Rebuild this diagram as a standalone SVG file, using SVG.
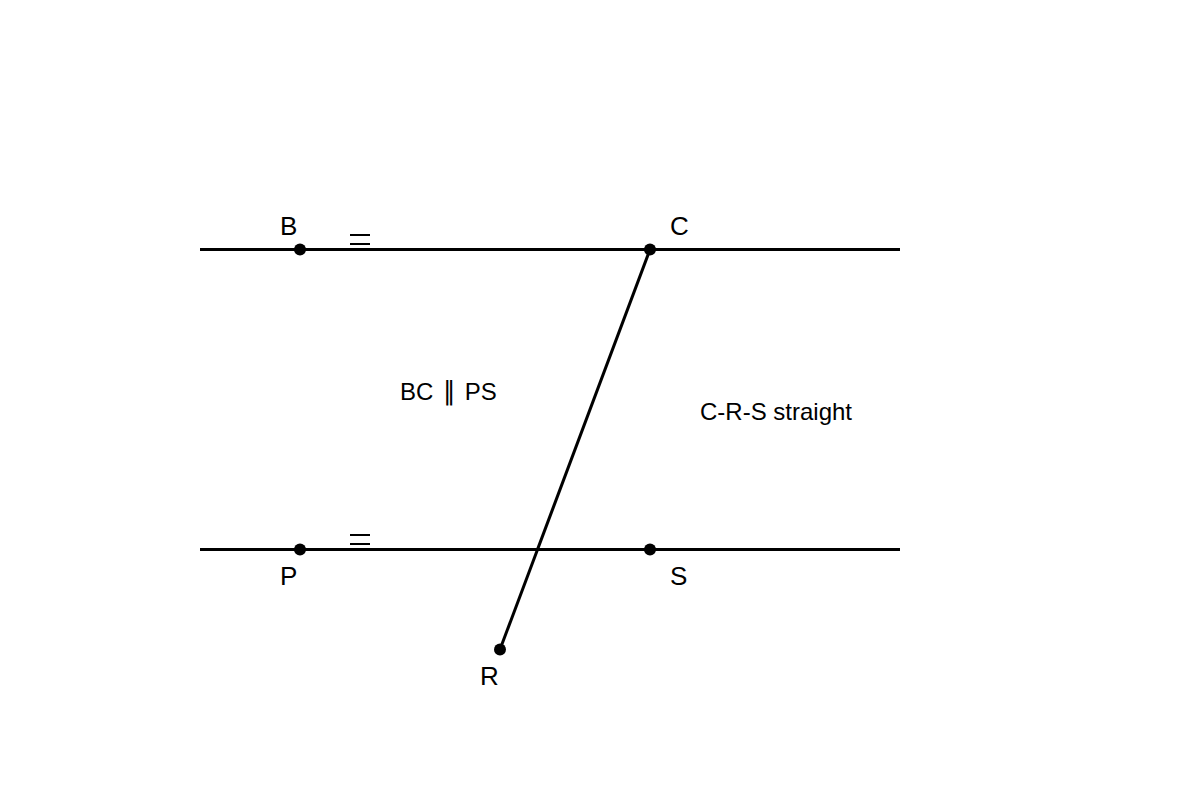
<svg xmlns="http://www.w3.org/2000/svg" width="1200" height="800" viewBox="0 0 1200 800">
<style>
.ln{stroke:#000;stroke-width:3;fill:none}
.tk{stroke:#000;stroke-width:2}
.pt{fill:#000}
.lbl{font-family:"Liberation Sans",Arial,sans-serif;font-size:26px;fill:#000}
.note{font-family:"Liberation Sans",Arial,sans-serif;font-size:24px;fill:#000}
</style>
<rect width="1200" height="800" fill="#fff"/>
<g id="connectors">
<line class="ln" x1="200" y1="249.5" x2="900" y2="249.5"/>
<line class="ln" x1="200" y1="549.5" x2="900" y2="549.5"/>
<line class="ln" x1="650" y1="249.5" x2="500" y2="649.5"/>
<line class="tk" x1="350" y1="235" x2="370" y2="235"/>
<line class="tk" x1="350" y1="244" x2="370" y2="244"/>
<line class="tk" x1="350" y1="535" x2="370" y2="535"/>
<line class="tk" x1="350" y1="544" x2="370" y2="544"/>
</g>
<g id="B"><circle class="pt" cx="300" cy="249.5" r="6"/><text class="lbl" x="280" y="235">B</text></g>
<g id="C"><circle class="pt" cx="650" cy="249.5" r="6"/><text class="lbl" x="670" y="235">C</text></g>
<g id="P"><circle class="pt" cx="300" cy="549.5" r="6"/><text class="lbl" x="280" y="585">P</text></g>
<g id="S"><circle class="pt" cx="650" cy="549.5" r="6"/><text class="lbl" x="670" y="585">S</text></g>
<g id="R"><circle class="pt" cx="500" cy="649.5" r="6"/><text class="lbl" x="480" y="685">R</text></g>
<g id="note1"><text class="note" x="400" y="400">BC <tspan dx="3" font-family="DejaVu Sans" font-size="26">∥</tspan><tspan dx="2"> PS</tspan></text></g>
<g id="note2"><text class="note" x="700" y="420">C-R-S straight</text></g>
</svg>
